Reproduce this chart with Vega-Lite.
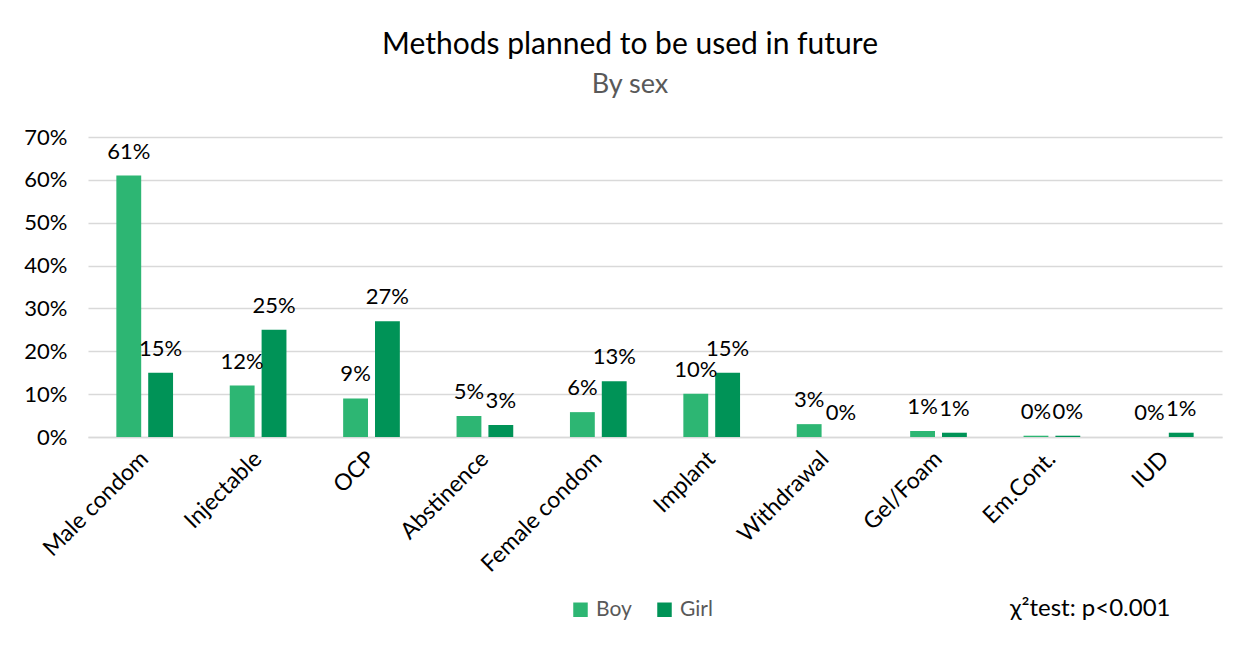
{
  "$schema": "https://vega.github.io/schema/vega-lite/v6.json",
  "autosize": "none",
  "width": 1134,
  "height": 300,
  "padding": {"left": 88, "top": 137, "right": 28, "bottom": 221},
  "background": "white",
  "config": {
    "font": "Lato",
    "view": {"stroke": null}
  },
  "title": {
    "text": "Methods planned to be used in future",
    "subtitle": "By sex",
    "fontSize": 30,
    "fontWeight": "normal",
    "color": "#000000",
    "subtitleFontSize": 27,
    "subtitleColor": "#595959",
    "subtitlePadding": 12,
    "offset": 28,
    "anchor": "middle",
    "dx": -25
  },
  "data": {
    "values": [
      {"method": "Male condom", "sex": "Boy", "value": 0.61, "label": "61%"},
      {"method": "Male condom", "sex": "Girl", "value": 0.15, "label": "15%"},
      {"method": "Injectable", "sex": "Boy", "value": 0.12, "label": "12%"},
      {"method": "Injectable", "sex": "Girl", "value": 0.25, "label": "25%"},
      {"method": "OCP", "sex": "Boy", "value": 0.09, "label": "9%"},
      {"method": "OCP", "sex": "Girl", "value": 0.27, "label": "27%"},
      {"method": "Abstinence", "sex": "Boy", "value": 0.049, "label": "5%"},
      {"method": "Abstinence", "sex": "Girl", "value": 0.028, "label": "3%"},
      {"method": "Female condom", "sex": "Boy", "value": 0.058, "label": "6%"},
      {"method": "Female condom", "sex": "Girl", "value": 0.13, "label": "13%"},
      {"method": "Implant", "sex": "Boy", "value": 0.101, "label": "10%"},
      {"method": "Implant", "sex": "Girl", "value": 0.15, "label": "15%"},
      {"method": "Withdrawal", "sex": "Boy", "value": 0.03, "label": "3%"},
      {"method": "Withdrawal", "sex": "Girl", "value": 0.0, "label": "0%"},
      {"method": "Gel/Foam", "sex": "Boy", "value": 0.014, "label": "1%"},
      {"method": "Gel/Foam", "sex": "Girl", "value": 0.01, "label": "1%"},
      {"method": "Em.Cont.", "sex": "Boy", "value": 0.003, "label": "0%"},
      {"method": "Em.Cont.", "sex": "Girl", "value": 0.003, "label": "0%"},
      {"method": "IUD", "sex": "Boy", "value": 0.0, "label": "0%"},
      {"method": "IUD", "sex": "Girl", "value": 0.01, "label": "1%"}
    ]
  },
  "encoding": {
    "x": {
      "field": "method",
      "type": "nominal",
      "sort": null,
      "scale": {"paddingInner": 0.5, "paddingOuter": 0.25},
      "axis": {
        "title": "χ²test: p<0.001",
        "titleFontSize": 24,
        "titleFontWeight": "normal",
        "titleColor": "#000000",
        "titleX": 1082,
        "titleY": 171,
        "titleAlign": "right",
        "titleBaseline": "middle",
        "labelAngle": -45,
        "labelAlign": "right",
        "labelBaseline": "middle",
        "labelFontSize": 23,
        "labelColor": "#000000",
        "labelPadding": 18,
        "ticks": false,
        "domainColor": "#d9d9d9",
        "domainWidth": 1.5
      }
    },
    "xOffset": {
      "field": "sex",
      "type": "nominal",
      "scale": {"paddingInner": 0.22, "paddingOuter": 0}
    },
    "y": {
      "field": "value",
      "type": "quantitative",
      "scale": {"domain": [0, 0.7], "nice": false},
      "axis": {
        "title": null,
        "format": ".0%",
        "values": [0, 0.1, 0.2, 0.3, 0.4, 0.5, 0.6, 0.7],
        "labelFontSize": 22,
        "labelColor": "#000000",
        "labelPadding": 21,
        "ticks": false,
        "domain": false,
        "gridColor": "#d9d9d9",
        "gridWidth": 1.5
      }
    }
  },
  "layer": [
    {
      "mark": {"type": "bar"},
      "encoding": {
        "color": {
          "field": "sex",
          "type": "nominal",
          "scale": {"domain": ["Boy", "Girl"], "range": ["#2db673", "#009357"]},
          "legend": {
            "title": null,
            "orient": "none",
            "direction": "horizontal",
            "legendX": 482,
            "legendY": 462,
            "symbolType": "square",
            "symbolSize": 210,
            "symbolStrokeWidth": 0,
            "labelFontSize": 21,
            "labelColor": "#595959",
            "columnPadding": 22,
            "labelOffset": 5
          }
        }
      }
    },
    {
      "mark": {"type": "text", "baseline": "bottom", "dy": -12, "fontSize": 22, "color": "#000000"},
      "encoding": {
        "text": {"field": "label", "type": "nominal"}
      }
    }
  ]
}
